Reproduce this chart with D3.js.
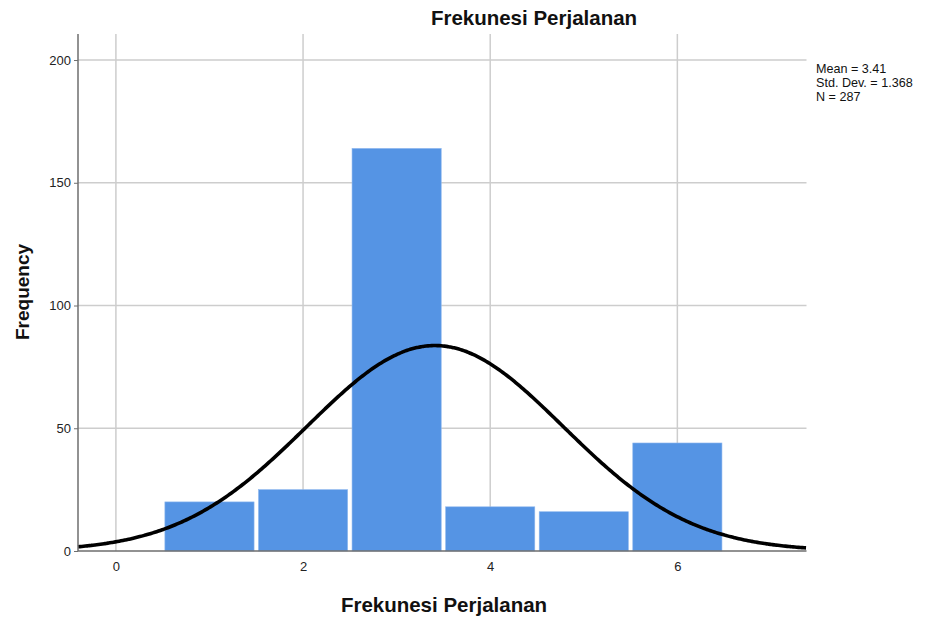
<!DOCTYPE html>
<html>
<head>
<meta charset="utf-8">
<script src="https://cdn.jsdelivr.net/npm/d3@7/dist/d3.min.js"></script>
<style>
  html, body { margin: 0; padding: 0; background: #fff; }
  svg { display: block; font-family: "Liberation Sans", Arial, sans-serif; }
</style>
</head>
<body>
<svg id="chart" width="925" height="618"></svg>
<script>
// Histogram of trip frequency with fitted normal curve
const categories = [1, 2, 3, 4, 5, 6];
const counts = [20, 25, 164, 18, 16, 44];
const xTicks = [0, 2, 4, 6];
const yTicks = [0, 50, 100, 150, 200];
const stats = { mean: 3.41, sd: 1.368, n: 287 };
const statLines = ["Mean = 3.41", "Std. Dev. = 1.368", "N = 287"];

const svg = d3.select("#chart");
const plotLeft = 78, plotRight = 806.5, plotTop = 34, plotBottom = 551;

const x = d3.scaleLinear().domain([-0.405, 7.38]).range([plotLeft, plotRight]);
const y = d3.scaleLinear().domain([0, 210.6]).range([plotBottom, plotTop]);

// gridlines
const grid = svg.append("g");
grid.selectAll("line.h").data(yTicks.filter(d => d > 0)).join("line")
  .attr("class", "h")
  .attr("x1", plotLeft).attr("x2", plotRight)
  .attr("y1", d => y(d)).attr("y2", d => y(d))
  .attr("stroke", "#cdcdcd").attr("stroke-width", 1.5);
grid.selectAll("line.v").data(xTicks).join("line")
  .attr("class", "v")
  .attr("x1", d => x(d)).attr("x2", d => x(d))
  .attr("y1", plotTop).attr("y2", plotBottom)
  .attr("stroke", "#cdcdcd").attr("stroke-width", 1.5);

// bars
svg.append("g").selectAll("rect").data(categories).join("rect")
  .attr("x", (d) => x(d - 0.5) + 2.2)
  .attr("width", d => x(d + 0.5) - x(d - 0.5) - 4.4)
  .attr("y", (d, i) => y(counts[i]))
  .attr("height", (d, i) => y(0) - y(counts[i]))
  .attr("fill", "#5594e4")
  .attr("stroke", "#8fb8ee").attr("stroke-width", 0.6);

// normal curve
const binWidth = 1;
const pdf = v => stats.n * binWidth / (stats.sd * Math.sqrt(2 * Math.PI)) *
  Math.exp(-0.5 * Math.pow((v - stats.mean) / stats.sd, 2));
const xs = d3.range(x.domain()[0], x.domain()[1] + 0.001, 0.02);
svg.append("path")
  .datum(xs)
  .attr("d", d3.line().x(d => x(d)).y(d => y(pdf(d))).curve(d3.curveBasis))
  .attr("fill", "none").attr("stroke", "#000").attr("stroke-width", 3.6);

// axes
const axisColor = "#6e6e6e";
const yAxis = svg.append("g").attr("transform", `translate(${plotLeft},0)`)
  .call(d3.axisLeft(y).tickValues(yTicks).tickSize(4).tickPadding(3));
yAxis.select(".domain").remove();
yAxis.append("line").attr("x1", 0).attr("x2", 0).attr("y1", plotTop).attr("y2", plotBottom)
  .attr("stroke", axisColor).attr("stroke-width", 1.5);
yAxis.selectAll(".tick line").attr("stroke", axisColor).attr("stroke-width", 1);
yAxis.selectAll(".tick text").attr("font-size", 13).attr("fill", "#222")
  .attr("font-family", "Liberation Sans, Arial, sans-serif");

const xAxis = svg.append("g").attr("transform", `translate(0,${plotBottom})`)
  .call(d3.axisBottom(x).tickValues(xTicks).tickSize(0).tickPadding(11));
xAxis.select(".domain").remove();
xAxis.append("line").attr("x1", plotLeft).attr("x2", plotRight).attr("y1", 0).attr("y2", 0)
  .attr("stroke", axisColor).attr("stroke-width", 1.5);
xAxis.selectAll(".tick text").attr("font-size", 13).attr("fill", "#222")
  .attr("font-family", "Liberation Sans, Arial, sans-serif");

// titles
svg.append("text").attr("x", 534).attr("y", 25).attr("text-anchor", "middle")
  .attr("font-size", 20.5).attr("font-weight", "bold").attr("fill", "#111")
  .text("Frekunesi Perjalanan");
svg.append("text").attr("x", 444).attr("y", 612).attr("text-anchor", "middle")
  .attr("font-size", 20.5).attr("font-weight", "bold").attr("fill", "#111")
  .text("Frekunesi Perjalanan");
svg.append("text").attr("transform", "translate(29,292) rotate(-90)")
  .attr("text-anchor", "middle")
  .attr("font-size", 19).attr("font-weight", "bold").attr("fill", "#111")
  .text("Frequency");

// summary statistics
svg.append("g").selectAll("text").data(statLines).join("text")
  .attr("x", 816).attr("y", (d, i) => 73 + i * 14)
  .attr("font-size", 12.6).attr("fill", "#111")
  .text(d => d);
</script>
</body>
</html>
